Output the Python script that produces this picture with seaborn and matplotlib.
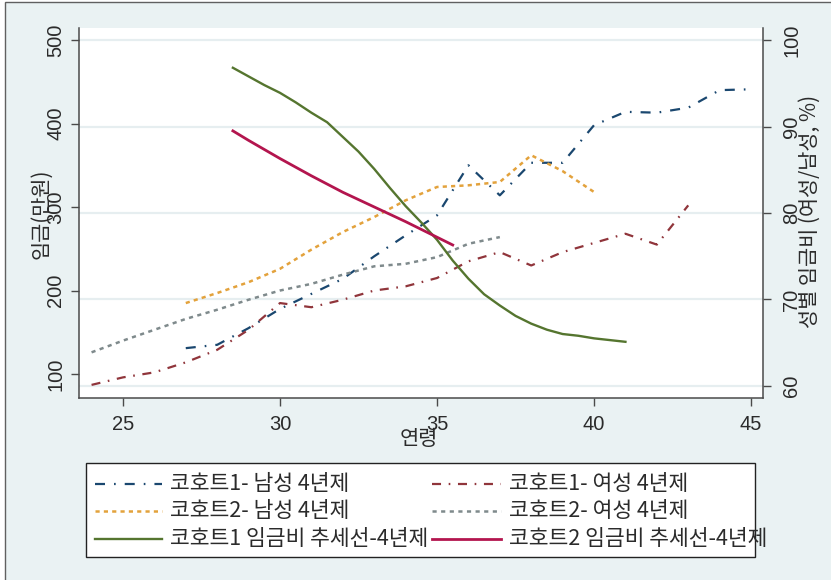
import matplotlib
matplotlib.use("Agg")
import matplotlib.pyplot as plt
from matplotlib.lines import Line2D
from matplotlib.patches import Rectangle
import pandas as pd
import seaborn as sns

# Monthly wage (10,000 KRW) by age, four-year college graduates
age_c1_male = [27, 28, 29, 30, 31, 32, 33, 34, 35, 36, 37, 38, 39, 40, 41, 42, 43, 44, 45]
wage_c1_male = [131, 135, 155, 178, 196, 214, 241, 266, 290, 350, 314, 353, 353, 398, 414, 413, 419, 440, 441]

age_c1_female = [24, 25, 26, 27, 28, 29, 30, 31, 32, 33, 34, 35, 36, 37, 38, 39, 40, 41, 42, 43]
wage_c1_female = [87, 96, 102, 114, 129, 153, 185, 180, 189, 200, 205, 215, 235, 246, 230, 246, 257, 268, 255, 302]

age_c2_male = [27, 28, 29, 30, 31, 32, 33, 34, 35, 36, 37, 38, 39, 40]
wage_c2_male = [185, 197, 210, 226, 249, 270, 288, 308, 324, 326, 330, 362, 343, 318]

age_c2_female = [24, 25, 26, 27, 28, 29, 30, 31, 32, 33, 34, 35, 36, 37]
wage_c2_female = [126, 140, 153, 166, 177, 189, 200, 208, 219, 229, 232, 240, 256, 264]

# Female/male wage ratio trend lines (%)
age_trend1 = [28.5, 29, 29.5, 30, 30.5, 31, 31.5, 32, 32.5, 33, 33.5, 34, 34.5, 35,
              35.5, 36, 36.5, 37, 37.5, 38, 38.5, 39, 39.5, 40, 40.5, 41]
ratio_trend1 = [96.8, 95.8, 94.8, 93.9, 92.8, 91.6, 90.5, 88.8, 87.1, 85.1, 82.9, 80.8, 78.9, 76.9,
                74.5, 72.4, 70.6, 69.3, 68.1, 67.2, 66.5, 66.0, 65.8, 65.5, 65.3, 65.1]
age_trend2 = [28.5, 29, 30, 31, 32, 33, 34, 35, 35.5]
ratio_trend2 = [89.5, 88.4, 86.3, 84.3, 82.4, 80.7, 79.0, 77.2, 76.3]

labels = [
    "코호트1- 남성 4년제", "코호트1- 여성 4년제",
    "코호트2- 남성 4년제", "코호트2- 여성 4년제",
    "코호트1 임금비 추세선-4년제", "코호트2 임금비 추세선-4년제",
]
x_ticks = [25, 30, 35, 40, 45]
wage_ticks = [100, 200, 300, 400, 500]
ratio_ticks = [60, 70, 80, 90, 100]

KR = "Noto Sans CJK KR"
plt.rcParams["font.family"] = ["Liberation Sans", KR, "DejaVu Sans"]
plt.rcParams["lines.scale_dashes"] = False
TXT = "#2b2b2b"
SPINE = "#4a4a4a"
GRID = "#e6eef0"
BG = "#eaf2f3"

styles = [
    dict(color="#1a476f", lw=1.6, linestyle=(0, (7.2, 6.5, 1.2, 6.5))),
    dict(color="#90353b", lw=1.6, linestyle=(0, (6.5, 5.5, 1.2, 5.5))),
    dict(color="#e3a23c", lw=1.8, linestyle=(0, (3.0, 3.0))),
    dict(color="#7f8a8c", lw=1.8, linestyle=(0, (3.0, 3.2))),
    dict(color="#55752f", lw=1.7, linestyle="-"),
    dict(color="#b3154e", lw=2.0, linestyle="-"),
]

W, H = 831, 580
fig = plt.figure(figsize=(W / 100, H / 100), dpi=100, facecolor="white")
fig.add_artist(Rectangle((5 / W, -0.1), 1.2, 1.1 - 2 / H, transform=fig.transFigure,
                         facecolor=BG, edgecolor="#606060", lw=1.0, zorder=-10))

ax = fig.add_axes([79 / W, 1 - 398 / H, (763 - 79) / W, (398 - 28) / H])
ax.set_facecolor("white")
ax2 = ax.twinx()

XL = (23.6, 45.38)
L0, L1 = 71.3, 514.4
R0, R1 = 58.6, 101.4
ax.set_xlim(*XL)
ax.set_ylim(L0, L1)
ax2.set_ylim(R0, R1)

# horizontal grid follows the ratio axis ticks
for v in ratio_ticks:
    ax.axhline(L0 + (v - R0) * (L1 - L0) / (R1 - R0), color=GRID, lw=1.6, zorder=0.5)

wage_series = [
    (age_c1_male, wage_c1_male),
    (age_c1_female, wage_c1_female),
    (age_c2_male, wage_c2_male),
    (age_c2_female, wage_c2_female),
]
for (xs, ys), st in zip(wage_series, styles[:4]):
    df = pd.DataFrame({"age": xs, "wage": ys})
    sns.lineplot(data=df, x="age", y="wage", ax=ax, estimator=None, **st)

for (xs, ys), st in zip([(age_trend1, ratio_trend1), (age_trend2, ratio_trend2)], styles[4:]):
    df = pd.DataFrame({"age": xs, "ratio": ys})
    sns.lineplot(data=df, x="age", y="ratio", ax=ax2, estimator=None, **st)

ax.set_xlim(*XL)
ax.set_ylim(L0, L1)
ax2.set_ylim(R0, R1)
ax.set_xticks(x_ticks)
ax.set_yticks(wage_ticks)
ax2.set_yticks(ratio_ticks)
ax.set_xlabel("")
ax.set_ylabel("")
ax2.set_ylabel("")

for s in ["top", "right"]:
    ax.spines[s].set_visible(False)
for s in ["top", "left", "bottom"]:
    ax2.spines[s].set_visible(False)
for a, names in [(ax, ["left", "bottom"]), (ax2, ["right"])]:
    for s in names:
        a.spines[s].set_color(SPINE)
        a.spines[s].set_linewidth(1.1)

ax.tick_params(axis="x", direction="out", length=5.5, width=1.0, color=SPINE,
               labelcolor=TXT, labelsize=14.5, pad=6.5)
ax.tick_params(axis="y", direction="out", length=5.5, width=1.0, color=SPINE,
               labelcolor=TXT, labelsize=14.5, pad=4.5, labelrotation=90)
ax2.tick_params(axis="y", direction="out", length=5.5, width=1.0, color=SPINE,
                labelcolor=TXT, labelsize=14.5, pad=8.5, labelrotation=90)
for lab in ax.get_yticklabels() + ax2.get_yticklabels():
    lab.set_va("center")

# axis titles
fig.text(41 / W, 1 - 214 / H, "임금(만원)", rotation=90, ha="center", va="center",
         fontsize=15, color=TXT, family=[KR, "DejaVu Sans"])
fig.text(810 / W, 1 - 211 / H, "성별 임금비 (여성/남성, %)", rotation=90, ha="center", va="center",
         fontsize=15, color=TXT, family=[KR, "DejaVu Sans"])
fig.text(419 / W, 1 - 439 / H, "연령", ha="center", va="center",
         fontsize=15, color=TXT, family=[KR, "DejaVu Sans"])

# legend box, two columns of three rows
fig.add_artist(Rectangle((86 / W, 1 - 557 / H), (755 - 86) / W, (557 - 463) / H,
                         transform=fig.transFigure, facecolor="white",
                         edgecolor="#222222", lw=1.0, zorder=1))
rows = [484, 511, 539]
cols = [(95, 162, 170), (432, 501, 509)]
for i, (lab, st) in enumerate(zip(labels, styles)):
    r, c = divmod(i, 2)
    x0, x1, xt = cols[c]
    yy = 1 - rows[r] / H
    fig.add_artist(Line2D([x0 / W, x1 / W], [yy, yy], transform=fig.transFigure,
                          zorder=3, **st))
    fig.text(xt / W, yy, lab, ha="left", va="center", fontsize=15.5, color=TXT,
             family=[KR, "DejaVu Sans"], zorder=2)

fig.savefig("out.png", dpi=100, facecolor=fig.get_facecolor())
